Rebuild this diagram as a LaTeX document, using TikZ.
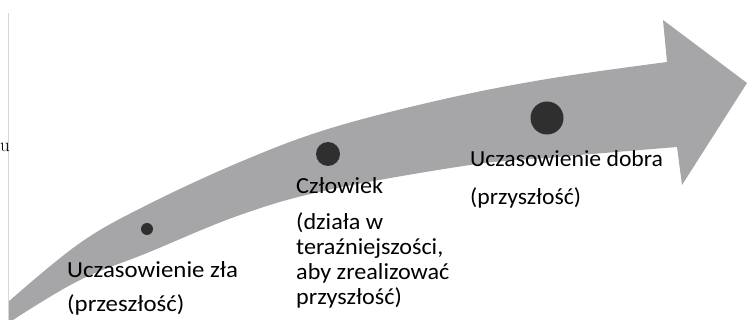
\documentclass[tikz,border=0pt]{standalone}
\usepackage{fontspec}
\setmainfont{Carlito}
\newfontfamily\lblfont{Carlito}[FakeStretch=1.08]
\newfontfamily\lblmid{Carlito}[FakeStretch=1.05]
\newfontfamily\lblwide{Carlito}[FakeStretch=1.03]
\newfontfamily\serif{Latin Modern Roman}
\definecolor{bandgray}{HTML}{A6A6A8}
\definecolor{dotgray}{HTML}{2F2F2F}
\definecolor{rulegray}{HTML}{D6D6D6}
\begin{document}
\begin{tikzpicture}[x=1pt,y=-1pt,
  dot/.style={circle,fill=dotgray,inner sep=0pt},
  lbl/.style={anchor=base west,inner sep=0pt,font=\lblfont\fontsize{23}{25}\selectfont,text=black,align=left}]
\useasboundingbox (0,0) rectangle (747,320);
\begin{scope}
\clip (8,0) rectangle (747,320);
\fill[bandgray]
  plot[smooth,tension=0.6] coordinates {(0,312) (8,302) (80,243) (147,205) (240,162) (328,129) (440,100) (547,79) (667,62)}
  -- (663,20) -- (747,83) -- (682,185) -- (677,147)
  -- plot[smooth,tension=0.6] coordinates {(677,147) (580,155) (547,158) (470,165) (328,190) (240,215) (147,253) (80,280) (13,320) (0,332)}
  -- cycle;
\end{scope}
\draw[rulegray,line width=0.8pt] (8,13) -- (8,320);
\node[anchor=base west,inner sep=0pt,font=\serif\fontsize{19}{22}\selectfont] (frag) at (0,152) {u};
\node[dot,minimum size=12pt] (d1) at (147,229) {};
\node[dot,minimum size=24pt] (d2) at (328,154) {};
\node[dot,minimum size=33pt] (d3) at (547,118) {};
\node[lbl] (t1) at (67,278) {Uczasowienie zła};
\node[lbl] (t1b) at (67,312) {(przeszłość)};
\node[lbl,font=\lblmid\fontsize{23}{25}\selectfont] (t2) at (296,194) {Człowiek};
\node[lbl,font=\lblmid\fontsize{23}{25}\selectfont] (t2b) at (296,305) {(działa w\\teraźniejszości,\\aby zrealizować\\przyszłość)};
\node[lbl,font=\lblwide\fontsize{23}{25}\selectfont] (t3) at (470,167) {Uczasowienie dobra};
\node[lbl,font=\lblwide\fontsize{23}{25}\selectfont] (t3b) at (470,205) {(przyszłość)};
\end{tikzpicture}
\end{document}
